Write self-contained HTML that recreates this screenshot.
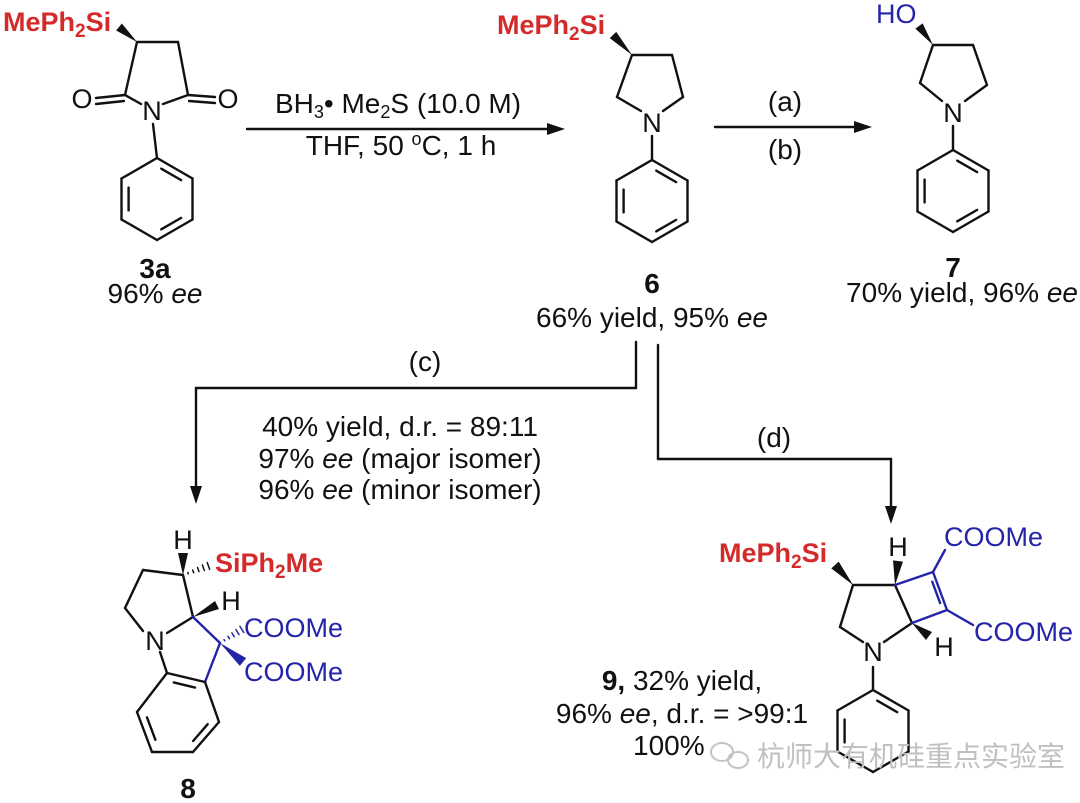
<!DOCTYPE html>
<html><head><meta charset="utf-8">
<style>
html,body{margin:0;padding:0;background:#fff;}
svg{display:block;}
text{font-family:"Liberation Sans",Arial,sans-serif;}
.r{fill:#d42a2a;font-weight:bold;font-size:27px;}
.b{fill:#2424a8;font-size:27px;}
.k{fill:#111;font-size:27px;}
.t{fill:#111;font-size:28px;}
</style></head>
<body>
<svg id="s" width="1080" height="803" viewBox="0 0 1080 803" xmlns="http://www.w3.org/2000/svg">
<g id="bonds" stroke="#111" stroke-width="2.4" fill="none" stroke-linecap="round" stroke-linejoin="round"></g>
<g id="fills" fill="#111"></g>

<!-- 3a -->
<text class="r" x="3" y="31">MePh<tspan font-size="19" dy="6">2</tspan><tspan dy="-6">Si</tspan></text>
<text class="k" x="152" y="120" text-anchor="middle">N</text>
<text class="k" x="82" y="108" text-anchor="middle">O</text>
<text class="k" x="228" y="108" text-anchor="middle">O</text>
<text x="155" y="278" text-anchor="middle" font-weight="bold" font-size="28" fill="#111">3a</text>
<text class="t" x="155" y="303" text-anchor="middle">96% <tspan font-style="italic">ee</tspan></text>

<!-- arrow 1 -->
<text class="t" x="398" y="113" text-anchor="middle" font-size="26">BH<tspan font-size="18" dy="5">3</tspan><tspan dy="-5">• Me</tspan><tspan font-size="18" dy="5">2</tspan><tspan dy="-5">S (10.0 M)</tspan></text>
<text class="t" x="401" y="155" text-anchor="middle" font-size="26">THF, 50 <tspan font-size="18" dy="-10">o</tspan><tspan dy="10">C, 1 h</tspan></text>

<!-- 6 -->
<text class="r" x="497" y="34">MePh<tspan font-size="19" dy="6">2</tspan><tspan dy="-6">Si</tspan></text>
<text class="k" x="652" y="132" text-anchor="middle">N</text>
<text x="652" y="293" text-anchor="middle" font-weight="bold" font-size="28" fill="#111">6</text>
<text class="t" x="652" y="327" text-anchor="middle">66% yield, 95% <tspan font-style="italic">ee</tspan></text>

<!-- arrow 2 -->
<text class="t" x="785" y="111" text-anchor="middle" font-size="26">(a)</text>
<text class="t" x="785" y="159" text-anchor="middle" font-size="26">(b)</text>

<!-- 7 -->
<text class="b" x="876" y="23">HO</text>
<text class="k" x="953" y="122" text-anchor="middle">N</text>
<text x="953" y="277" text-anchor="middle" font-weight="bold" font-size="28" fill="#111">7</text>
<text class="t" x="1078" y="302" text-anchor="end">70% yield, 96% <tspan font-style="italic">ee</tspan></text>

<!-- branch labels -->
<text class="t" x="425" y="371" text-anchor="middle" font-size="26">(c)</text>
<text class="t" x="774" y="447" text-anchor="middle" font-size="26">(d)</text>
<text class="t" x="400" y="436" text-anchor="middle">40% yield, d.r. = 89:11</text>
<text class="t" x="400" y="468" text-anchor="middle">97% <tspan font-style="italic">ee</tspan> (major isomer)</text>
<text class="t" x="400" y="499" text-anchor="middle">96% <tspan font-style="italic">ee</tspan> (minor isomer)</text>

<!-- 8 -->
<text class="k" x="183" y="549" text-anchor="middle">H</text>
<text class="r" x="215" y="572">SiPh<tspan font-size="19" dy="6">2</tspan><tspan dy="-6">Me</tspan></text>
<text class="k" x="231" y="610" text-anchor="middle">H</text>
<text class="k" x="155" y="650" text-anchor="middle">N</text>
<text class="b" x="244" y="637">COOMe</text>
<text class="b" x="244" y="681">COOMe</text>
<text x="188" y="798" text-anchor="middle" font-weight="bold" font-size="28" fill="#111">8</text>

<!-- 9 -->
<text class="r" x="719" y="562">MePh<tspan font-size="19" dy="6">2</tspan><tspan dy="-6">Si</tspan></text>
<text class="k" x="898" y="556" text-anchor="middle">H</text>
<text class="b" x="944" y="546">COOMe</text>
<text class="b" x="974" y="641">COOMe</text>
<text class="k" x="944" y="656" text-anchor="middle">H</text>
<text class="k" x="873" y="661" text-anchor="middle">N</text>
<text class="t" x="682" y="690" text-anchor="middle"><tspan font-weight="bold">9,</tspan> 32% yield,</text>
<text class="t" x="682" y="723" text-anchor="middle">96% <tspan font-style="italic">ee</tspan>, d.r. = &gt;99:1</text>
<text class="t" x="633" y="755">100%</text>

<!-- watermark -->
<g fill="none" stroke="#c4c4c4" stroke-width="2">
<ellipse cx="722" cy="752" rx="11" ry="9"/><ellipse cx="738" cy="760" rx="10" ry="8"/>
</g>
<text x="757" y="766" font-family="'Liberation Sans','Noto Sans CJK SC',sans-serif" font-size="28" fill="#c0c0c0">杭师大有机硅重点实验室</text>
</svg>
<script>
var NS="http://www.w3.org/2000/svg";
var B=document.getElementById('bonds'),F=document.getElementById('fills');
function L(x1,y1,x2,y2,c,w){var e=document.createElementNS(NS,'line');e.setAttribute('x1',x1);e.setAttribute('y1',y1);e.setAttribute('x2',x2);e.setAttribute('y2',y2);if(c)e.setAttribute('stroke',c);if(w)e.setAttribute('stroke-width',w);B.appendChild(e);}
function W(x1,y1,x2,y2,c,hw){hw=hw||4;var dx=x2-x1,dy=y2-y1,l=Math.hypot(dx,dy),nx=-dy/l*hw,ny=dx/l*hw;var p=document.createElementNS(NS,'polygon');p.setAttribute('points',x1+','+y1+' '+(x2+nx)+','+(y2+ny)+' '+(x2-nx)+','+(y2-ny));if(c)p.setAttribute('fill',c);F.appendChild(p);}
function H(x1,y1,x2,y2,c,hw){hw=hw||4;var dx=x2-x1,dy=y2-y1,l=Math.hypot(dx,dy),nx=-dy/l,ny=dx/l;for(var i=1;i<=5;i++){var t=i/5.5,w=hw*t,x=x1+dx*t,y=y1+dy*t;L(x+nx*w,y+ny*w,x-nx*w,y-ny*w,c,1.5);}}
function IN(p1,p2,cx,cy,c){var f=0.2;var a=[p1[0]+(cx-p1[0])*f,p1[1]+(cy-p1[1])*f],b=[p2[0]+(cx-p2[0])*f,p2[1]+(cy-p2[1])*f];var s=0.15;L(a[0]+(b[0]-a[0])*s,a[1]+(b[1]-a[1])*s,b[0]+(a[0]-b[0])*s,b[1]+(a[1]-b[1])*s,c);}
function PH(cx,top,dbl){var s=35.5;var p=[[cx,top],[cx+s,top+20.5],[cx+s,top+61.5],[cx,top+82],[cx-s,top+61.5],[cx-s,top+20.5]];var cy=top+41;for(var i=0;i<6;i++){L(p[i][0],p[i][1],p[(i+1)%6][0],p[(i+1)%6][1]);}dbl.forEach(function(i){IN(p[i],p[(i+1)%6],cx,cy);});}
function AR(x,y,dir){var p=document.createElementNS(NS,'polygon');var pts;if(dir=='r')pts=[x,y,x-18,y-6,x-18,y+6];else pts=[x,y,x-6,y-18,x+6,y-18];p.setAttribute('points',pts.join(' '));F.appendChild(p);}
// 3a
W(137,42,119,27,null,4.5);
L(137,42,178,42);L(178,42,188,95);L(188,95,163,104);L(125,95,141,104);L(137,42,125,95);
L(125,95,96,98);L(124,101,96,104);
L(188,95,215,97);L(189,101,215,103);
L(153,124,157,158);
PH(157,158,[0,2,4]);
// arrow1
L(247,129,548,129);AR(565,129,'r');
// 6
W(632,55,613,35,null,4.5);
L(632,55,672,55);L(672,55,683,97);L(683,97,663,111);L(617,97,641,111);L(632,55,617,97);
L(652,136,652,160);PH(652,160,[0,2,4]);
// arrow2
L(715,127,855,127);AR(872,127,'r');
// 7
W(933,45,919,26,null,4.5);
L(933,45,973,45);L(973,45,987,85);L(987,85,965,101);L(920,83,942,101);L(933,45,920,83);
L(953,126,953,150);PH(953,150,[0,2,4]);
// branches
L(636,342,636,388);L(636,388,196,388);L(196,388,196,486);AR(196,504,'d');
L(658,345,658,459);L(658,459,891,459);L(891,459,891,506);AR(891,524,'d');
// 8
var blue="#2424a8";
W(183,575,183,553,null,5);
H(183,575,211,565,null,4);
L(183,575,143,570);L(143,570,125,608);L(125,608,143,631);L(167,633,193,617);L(183,575,193,617);
W(193,617,217,605,null,4.5);
L(193,617,220,643,blue);
H(220,643,244,628,blue,4);
W(220,643,243,662,blue,5);
L(220,643,205,682,blue);
var bz=[[167,673],[205,682],[219,722],[193,752],[152,752],[137,712]];
L(160,652,167,673);
for(var i=0;i<6;i++)L(bz[i][0],bz[i][1],bz[(i+1)%6][0],bz[(i+1)%6][1]);
IN(bz[0],bz[1],178,715);IN(bz[2],bz[3],178,715);IN(bz[4],bz[5],178,715);
// 9
W(853,585,835,565,null,5);
L(853,585,895,585);L(853,585,840,627);L(840,627,863,642);L(884,642,912,623);L(912,623,895,585);
W(895,585,898,561,null,5);
W(912,623,929,636,null,5);
L(895,585,933,572,blue);L(933,572,947,610,blue);L(947,610,912,623,blue);
IN([933,572],[947,610],921,598,blue);
L(933,572,945,550,blue);L(947,610,973,625,blue);
L(873,667,873,690);PH(873,690,[0,4]);
</script>
</body></html>
